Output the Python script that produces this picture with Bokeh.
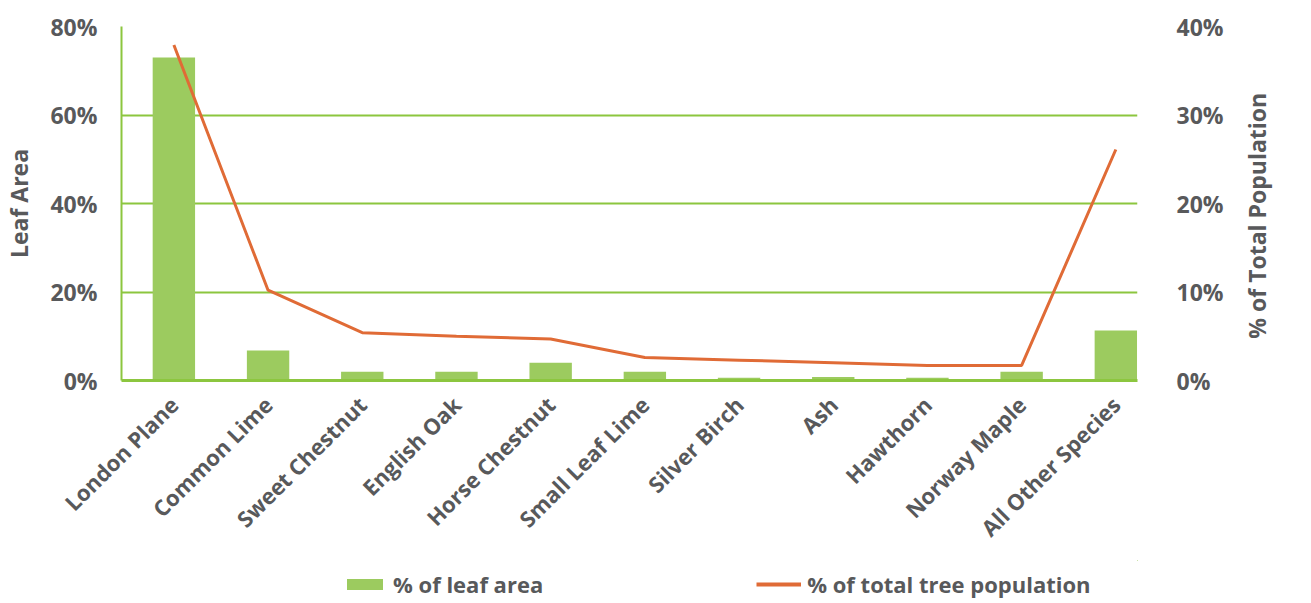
import math
from bokeh.plotting import figure
from bokeh.layouts import column
from bokeh.models import (Range1d, LinearAxis, FixedTicker, PrintfTickFormatter,
                          Legend, LegendItem, ColumnDataSource)
from bokeh.embed import file_html
from bokeh.resources import INLINE

species = ["London Plane", "Common Lime", "Sweet Chestnut", "English Oak",
           "Horse Chestnut", "Small Leaf Lime", "Silver Birch", "Ash",
           "Hawthorn", "Norway Maple", "All Other Species"]
leaf_area = [73.0, 6.8, 2.0, 2.0, 4.0, 2.0, 0.6, 0.8, 0.6, 2.0, 11.3]
population = [37.9, 10.2, 5.4, 5.0, 4.7, 2.6, 2.3, 2.0, 1.7, 1.7, 26.1]
left_ticks = [0, 20, 40, 60, 80]
right_ticks = [0, 10, 20, 30, 40]
legend_labels = ["% of leaf area", "% of total tree population"]

GREEN_BAR = "#9ccb5f"
GREEN_LINE = "#8cc63f"
ORANGE = "#e06b36"
GREY = "#58595b"
FONT = "Open Sans"

idx = list(range(len(species)))
src = ColumnDataSource(dict(x=idx, leaf=leaf_area, pop=population))

W, H = 1295, 560
TOP = 26
FRAME_H = 354
p = figure(width=W, height=H, output_backend="svg", toolbar_location=None,
           x_range=Range1d(-0.556, 10.23), y_range=Range1d(0, 80),
           min_border_left=109, min_border_right=158, min_border_top=TOP,
           min_border_bottom=H - TOP - FRAME_H)
p.outline_line_color = None
p.background_fill_color = "white"
p.border_fill_color = "white"
p.extra_y_ranges = {"pop": Range1d(0, 40)}

p.vbar(x="x", top="leaf", width=0.45, source=src, fill_color=GREEN_BAR,
       line_color=None)
p.line(x="x", y="pop", source=src, y_range_name="pop",
       line_color=ORANGE, line_width=3)

# x axis
xa = p.xaxis[0]
xa.ticker = FixedTicker(ticks=idx)
xa.major_label_overrides = {i: s for i, s in enumerate(species)}
xa.major_label_orientation = math.pi / 4
xa.major_label_text_font = FONT
xa.major_label_text_font_style = "bold"
xa.major_label_text_font_size = "22px"
xa.major_label_text_color = GREY
xa.major_label_standoff = 14
xa.axis_line_color = GREEN_LINE
xa.axis_line_width = 3
xa.major_tick_line_color = None
xa.minor_tick_line_color = None

# left axis
ya = p.yaxis[0]
ya.ticker = FixedTicker(ticks=left_ticks)
ya.formatter = PrintfTickFormatter(format="%d%%")
ya.axis_label = "Leaf Area"
ya.major_label_text_font = FONT
ya.major_label_text_font_style = "bold"
ya.major_label_text_font_size = "23px"
ya.major_label_text_color = GREY
ya.major_label_standoff = 18
ya.axis_label_text_font = FONT
ya.axis_label_text_font_style = "bold"
ya.axis_label_text_font_size = "23px"
ya.axis_label_text_color = GREY
ya.axis_label_standoff = 12
ya.axis_line_color = GREEN_LINE
ya.axis_line_width = 2
ya.major_tick_line_color = None
ya.minor_tick_line_color = None

# right axis
ra = LinearAxis(y_range_name="pop", ticker=FixedTicker(ticks=right_ticks),
                formatter=PrintfTickFormatter(format="%d%%"),
                axis_label="\u00a0" * 7 + "% of Total Population")
ra.major_label_text_font = FONT
ra.major_label_text_font_style = "bold"
ra.major_label_text_font_size = "23px"
ra.major_label_text_color = GREY
ra.major_label_standoff = 33
ra.axis_label_text_font = FONT
ra.axis_label_text_font_style = "bold"
ra.axis_label_text_font_size = "23px"
ra.axis_label_text_color = GREY
ra.axis_label_standoff = 30
ra.axis_label_orientation = math.pi / 2
try:
    ra.axis_label_align = "start"
except Exception:
    pass
ra.axis_line_color = None
ra.major_tick_line_color = None
ra.minor_tick_line_color = None
p.add_layout(ra, "right")

p.xgrid.grid_line_color = None
p.ygrid.ticker = FixedTicker(ticks=[20, 40, 60])
p.ygrid.grid_line_color = GREEN_LINE
p.ygrid.grid_line_width = 2

# legend strip (renderers reuse the real data, kept out of view)
p2 = figure(width=W, height=39, output_backend="svg", toolbar_location=None,
            x_range=Range1d(-100, -99), y_range=Range1d(-100, -99),
            x_axis_location=None, y_axis_location=None, min_border=0)
p2.outline_line_color = None
p2.grid.visible = False
r_bar = p2.vbar(x="x", top="leaf", width=0.45, source=src, fill_color=GREEN_BAR,
                line_color=None)
r_line = p2.line(x="x", y="pop", source=src, line_color=ORANGE, line_width=4)

legend = Legend(items=[LegendItem(label=legend_labels[0], renderers=[r_bar]),
                       LegendItem(label=legend_labels[1], renderers=[r_line])],
                orientation="horizontal", location=(221, 0),
                padding=0, margin=0, spacing=213,
                glyph_width=45, glyph_height=14, label_standoff=6,
                label_text_font=FONT, label_text_font_style="bold",
                label_text_font_size="22px", label_text_color=GREY,
                background_fill_alpha=0, border_line_color=None)
p2.add_layout(legend, "center")

layout = column(p, p2, spacing=0)
open("out.html", "w").write(file_html(layout, INLINE))
